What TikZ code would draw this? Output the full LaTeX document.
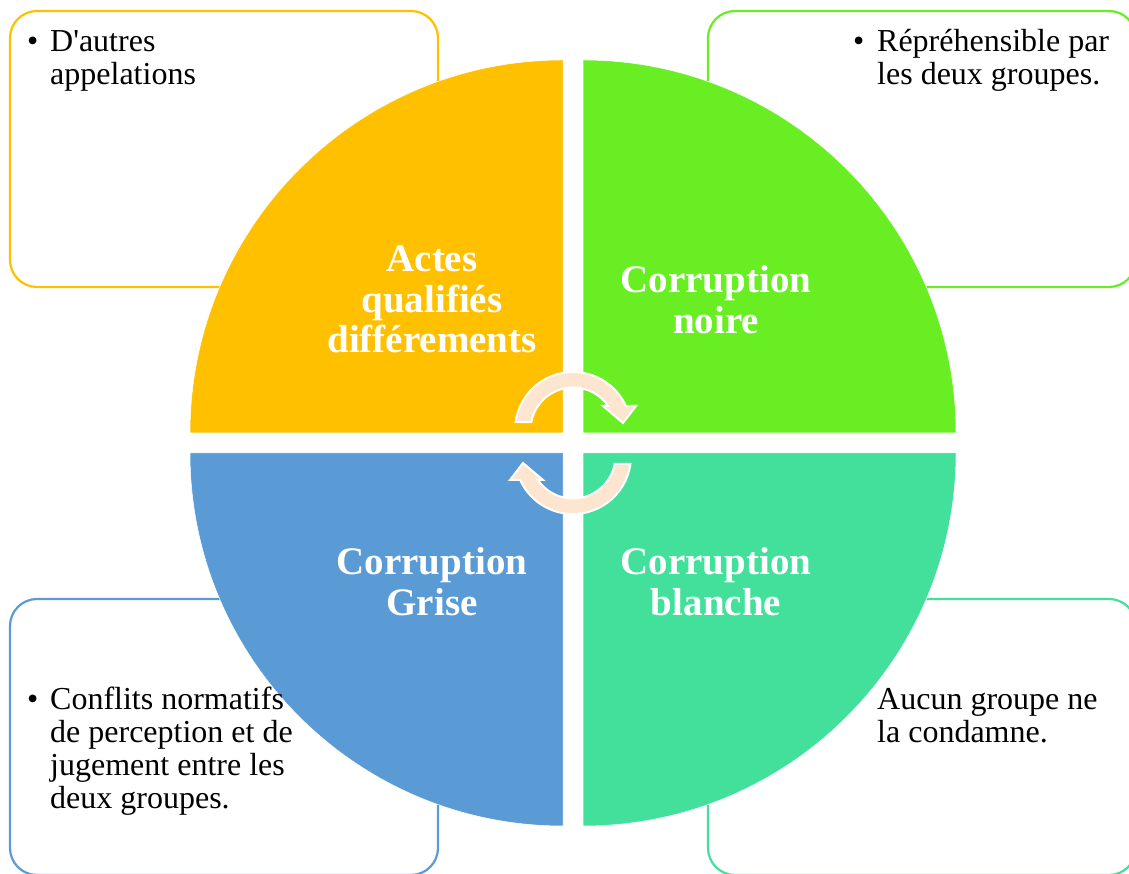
\documentclass[tikz,border=0pt]{standalone}
\usepackage{fontspec}
\setmainfont{Liberation Serif}
\newfontfamily\rawserif{Liberation Serif}
\definecolor{cyellow}{HTML}{FFC000}
\definecolor{cgreen}{HTML}{68EE23}
\definecolor{cblue}{HTML}{5B9BD5}
\definecolor{cteal}{HTML}{42E09B}
\definecolor{cpeach}{HTML}{FDE5CF}
\tikzset{
  infobox/.style={line width=2.2pt, rounded corners=27pt},
  quad/.style={draw=white, line width=0.5pt},
  lbl/.style={text=white, inner sep=0pt, anchor=base,
    font=\fontsize{39}{40.5}\selectfont\bfseries},
  body/.style={inner sep=0pt, anchor=base west,
    font=\fontsize{32}{33}\selectfont},
  cyc/.style={fill=cpeach, draw=white, line width=2pt, line join=miter},
}
\begin{document}
\begin{tikzpicture}[x=1pt,y=1pt]
\useasboundingbox (0,0) rectangle (1129,874);
% side boxes
\draw[infobox, draw=cyellow] (10,587) rectangle (438,863);
\draw[infobox, draw=cgreen] (708,587) rectangle (1136,863);
\draw[infobox, draw=cblue] (10,-1) rectangle (438,275);
\draw[infobox, draw=cteal] (708,-1) rectangle (1136,275);
% quadrants
\fill[quad, fill=cyellow] (563,441) -- ++(0,373) arc[start angle=90, end angle=180, radius=373] -- cycle;
\fill[quad, fill=cgreen] (583,441) -- ++(373,0) arc[start angle=0, end angle=90, radius=373] -- cycle;
\fill[quad, fill=cblue] (563,421) -- ++(-373,0) arc[start angle=180, end angle=270, radius=373] -- cycle;
\fill[quad, fill=cteal] (583,421) -- ++(0,-373) arc[start angle=270, end angle=360, radius=373] -- cycle;
% cycle arrows
\draw[cyc] (515.6,452) arc[start angle=172.1, end angle=24.4, radius=58]
  -- (636,468) -- (623,451) -- (603,468) -- (608.1,468)
  arc[start angle=34.4, end angle=169.2, radius=42.5] -- cycle;
\draw[cyc, rotate around={180:(573,431)}] (515.6,452) arc[start angle=172.1, end angle=24.4, radius=58]
  -- (636,468) -- (623,451) -- (603,468) -- (608.1,468)
  arc[start angle=34.4, end angle=169.2, radius=42.5] -- cycle;
% quadrant labels
\node[lbl] (actes) at (432,602) {\begin{tabular}[t]{@{}c@{}}Actes\\qualifiés\\différements\end{tabular}};
\node[lbl] (noire) at (716,581) {\begin{tabular}[t]{@{}c@{}}Corruption\\noire\end{tabular}};
\node[lbl] (grise) at (432,299) {\begin{tabular}[t]{@{}c@{}}Corruption\\Grise\end{tabular}};
\node[lbl] (blanche) at (716,299) {\begin{tabular}[t]{@{}c@{}}Corruption\\blanche\end{tabular}};
% box texts
\node[body] (tltext) at (27,822) {\begin{tabular}[t]{@{}p{23pt}@{}l@{}}\textbullet & D{\rawserif'}autres\\ & appelations\end{tabular}};
\node[body] (trtext) at (853,822) {\begin{tabular}[t]{@{}p{24pt}@{}l@{}}\textbullet & Répréhensible par\\ & les deux groupes.\end{tabular}};
\node[body] (bltext) at (27,164) {\begin{tabular}[t]{@{}p{23pt}@{}l@{}}\textbullet & Conflits normatifs\\ & de perception et de\\ & jugement entre les\\ & deux groupes.\end{tabular}};
\node[body] (brtext) at (877,164) {\begin{tabular}[t]{@{}l@{}}Aucun groupe ne\\la condamne.\end{tabular}};
\end{tikzpicture}
\end{document}
